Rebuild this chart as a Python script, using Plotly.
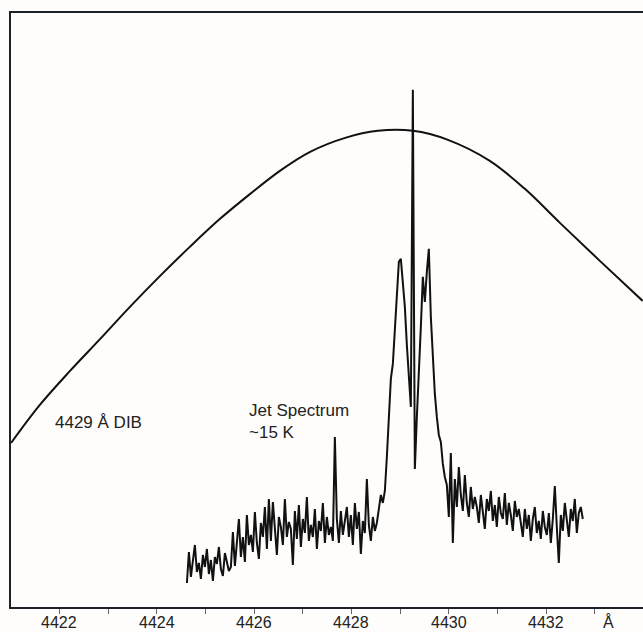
import numpy as np
import plotly.graph_objects as go

# Broad DIB profile (wavelength in Angstrom, relative intensity)
dib_wl = [4421.01, 4421.60, 4422.22, 4422.84, 4423.45, 4424.07, 4424.68, 4425.30,
          4425.92, 4426.53, 4427.15, 4427.87, 4428.54, 4429.26, 4429.98, 4430.84,
          4431.56, 4432.28, 4433.10, 4433.98]
dib_int = [164, 202, 236, 268, 300, 331, 360, 388, 413, 436, 455, 469, 476, 476,
           467, 446, 418, 384, 346, 306]

# Jet spectrum (~15 K), sampled evenly from 4424.62 to 4432.75 Angstrom
jet_start, jet_end = 4424.62, 4432.75
jet_int = [
    24, 55, 30, 48, 62, 35, 44, 28, 52, 40, 58, 33, 47, 26, 50, 43, 60, 38, 31, 54, 45, 36,
    40, 75, 41, 66, 88, 50, 70, 45, 92, 62,
    72, 55, 95, 64, 48, 84, 70, 100, 58, 108,
    66, 105, 74, 52, 90, 80, 62, 108, 70, 85,
    78, 42, 96, 68, 102, 60, 88, 74, 110, 66,
    82, 70, 98, 58, 86, 76, 104, 64, 90, 72,
    80, 66, 170,
    88, 64, 96, 72, 84, 100, 70, 92, 62, 104, 78, 95, 53, 86, 74, 128, 82, 66, 90, 76, 84,
    98, 112, 104, 116,
    150, 195, 228, 243, 275, 318, 345, 348, 326, 300, 262, 225, 200,
    517, 138,
    190, 230, 280, 330, 305, 335, 358, 290, 250, 213, 190, 172, 165, 143, 130, 122, 90,
    154, 64,
    128, 100, 140, 112, 96, 132, 104, 90, 120, 98, 110,
    100, 84, 112, 92, 78, 108, 96, 116, 86, 102, 80, 110, 94, 88, 114, 82, 104, 92, 76, 106, 90, 98,
    84, 70, 98, 78, 92, 66, 88, 100, 74, 86, 68, 96, 80, 72, 94, 64, 88,
    121, 80, 44,
    92, 76, 104, 84, 70, 98, 86, 108, 74, 94, 100,
    88,
]
jet_wl = np.linspace(jet_start, jet_end, len(jet_int))

tick_vals = list(range(4421, 4434))
label_vals = [4422, 4424, 4426, 4428, 4430, 4432]
label_text = ["4422", "4424", "4426", "4428", "4430", "4432"]
unit_pos, unit_text = 4433.27, "Å"

fig = go.Figure()
fig.add_trace(go.Scatter(x=dib_wl, y=dib_int, mode="lines", line_shape="spline",
                         line=dict(color="#111111", width=2), hoverinfo="skip"))
fig.add_trace(go.Scatter(x=jet_wl, y=jet_int, mode="lines",
                         line=dict(color="#111111", width=2), hoverinfo="skip"))

font = dict(family="Liberation Sans, Arial, sans-serif", color="#222222")

fig.add_annotation(x=4422.8, y=606.5 - 422, text="4429 Å DIB", showarrow=False,
                   font=dict(size=17, **font), xanchor="center", yanchor="middle")
fig.add_annotation(x=4425.85, y=606.5 - 410, text="Jet Spectrum", showarrow=False,
                   font=dict(size=17, **font), xanchor="left", yanchor="middle")
fig.add_annotation(x=4425.85, y=606.5 - 432, text="~15 K", showarrow=False,
                   font=dict(size=17, **font), xanchor="left", yanchor="middle")

# tick labels placed just under the axis
for v, t in zip(label_vals + [unit_pos], label_text + [unit_text]):
    fig.add_annotation(x=v, y=-24.5 / 594, xref="x", yref="paper", text=t,
                       showarrow=False, xanchor="center", yanchor="bottom",
                       borderpad=0, font=dict(size=16, **font))

fig.update_layout(
    width=643, height=632,
    margin=dict(l=11, r=0, t=13, b=25, autoexpand=False),
    paper_bgcolor="#fefdfb", plot_bgcolor="#fefdfb",
    showlegend=False,
    xaxis=dict(range=[4421.008, 4433.986], tickmode="array", tickvals=tick_vals,
               showticklabels=False, ticks="outside", ticklen=5, tickwidth=1,
               tickcolor="#666666", showline=True, linecolor="#1c2228", linewidth=2,
               mirror=True, showgrid=False, zeroline=False, automargin=False),
    yaxis=dict(range=[0, 593.8], showticklabels=False, ticks="", showline=True,
               automargin=False, linecolor="#1c2228", linewidth=2, showgrid=False,
               zeroline=False),
)

fig.write_html("out.html")
